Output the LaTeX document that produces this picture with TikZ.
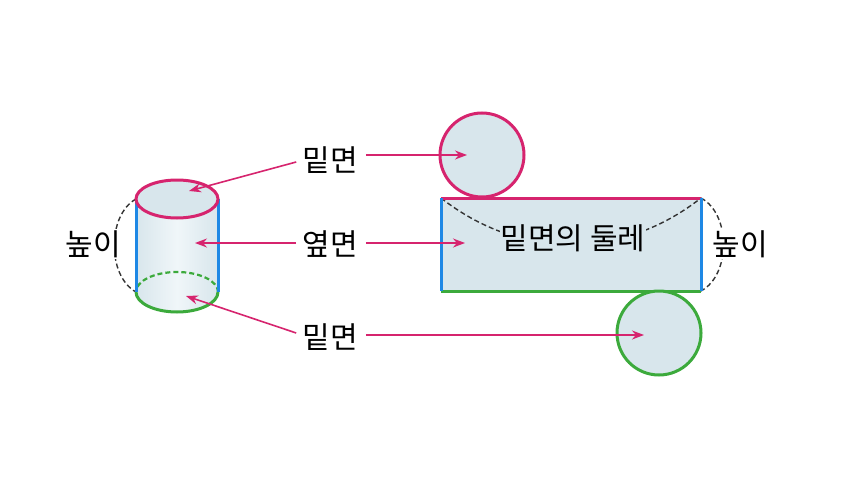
\documentclass[tikz,border=0pt]{standalone}
\usepackage{fontspec}
\newfontfamily\kr{Noto Sans CJK KR}
\usetikzlibrary{arrows.meta}
\definecolor{mag}{RGB}{214,36,110}
\definecolor{cblue}{RGB}{30,136,229}
\definecolor{cgreen}{RGB}{60,170,60}
\definecolor{cfill}{RGB}{216,230,236}
\definecolor{clight}{RGB}{240,246,249}
\tikzset{
  lbl/.style={font=\kr\fontsize{30pt}{33pt}\selectfont, inner sep=1pt},
  ptr/.style={draw=mag, line width=1.6pt, -{Stealth[length=12pt,width=9pt]}},
  edge/.style={line width=3pt},
  hdash/.style={draw=black!80, line width=1.4pt, dash pattern=on 5pt off 3pt},
}
\begin{document}
\begin{tikzpicture}[x=1pt,y=-1pt]
\useasboundingbox (0,0) rectangle (861,500);
% ---- cylinder ----
\shade[left color=cfill, right color=cfill, middle color=clight]
  (136,199) -- (136,292) arc[start angle=180, end angle=360, x radius=41pt, y radius=20pt]
  -- (218,199) arc[start angle=0, end angle=180, x radius=41pt, y radius=20pt] -- cycle;
\draw[hdash] (136,199) .. controls (107,215) and (107,276) .. (136,292);
\draw[cgreen, line width=2.2pt, dash pattern=on 5pt off 3pt] (218,292) arc[start angle=0, end angle=180, x radius=41pt, y radius=20pt];
\draw[cgreen, edge] (136,292) arc[start angle=180, end angle=360, x radius=41pt, y radius=20pt];
\draw[cblue, edge] (136,199) -- (136,292);
\draw[cblue, edge] (218,199) -- (218,292);
\draw[mag, edge, fill=cfill] (177,199) ellipse[x radius=41pt, y radius=19pt];
\coordinate (ctop) at (189,191);
\coordinate (cside) at (195,243);
\coordinate (cbot) at (186,296);
\node[lbl, fill=white] (hl) at (93,244) {높이};
% ---- net ----
\fill[cfill] (441,198) rectangle (701,291);
\draw[hdash] (441,198) .. controls (520,260) and (622,260) .. (701,198);
\draw[hdash] (701,198) .. controls (731,214) and (731,275) .. (701,291);
\node[lbl, fill=cfill] (perim) at (573,238) {밑면의 둘레};
\node[lbl, fill=white] (hr) at (740,244) {높이};
\draw[mag, edge] (441,198) -- (701,198);
\draw[cgreen, edge] (441,291) -- (701,291);
\draw[cblue, edge] (441,198) -- (441,291);
\draw[cblue, edge] (701,198) -- (701,291);
\draw[mag, edge, fill=cfill] (482,155) circle[radius=42pt];
\draw[cgreen, edge, fill=cfill] (659,333) circle[radius=42pt];
\coordinate (ntop) at (467,155);
\coordinate (nside) at (465,243);
\coordinate (nbot) at (644,335);
% ---- labels ----
\node[lbl] (b1) at (330,160) {밑면};
\node[lbl] (s1) at (330,244) {옆면};
\node[lbl] (b2) at (330,337) {밑면};
\draw[ptr] (b1.west) ++(-5,2) -- (ctop);
\draw[ptr] (s1.west) ++(-5,-1) -- (cside);
\draw[ptr] (b2.west) ++(-5,-4) -- (cbot);
\draw[ptr] (b1.east) ++(7,-5) -- (ntop);
\draw[ptr] (s1.east) ++(7,-1) -- (nside);
\draw[ptr] (b2.east) ++(7,-2) -- (nbot);
\end{tikzpicture}
\end{document}
